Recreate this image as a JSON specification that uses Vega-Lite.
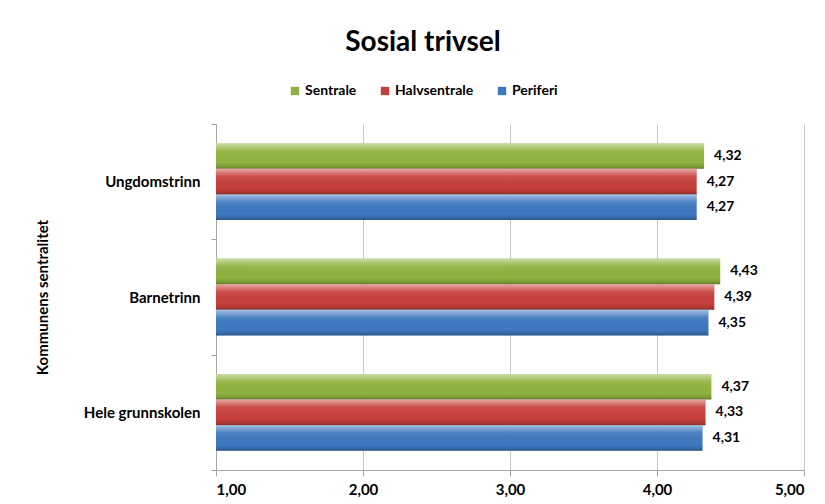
{
  "$schema": "https://vega.github.io/schema/vega-lite/v6.json",
  "width": 588,
  "height": 346,
  "autosize": {"type": "none"},
  "padding": {"left": 216, "top": 124, "right": 21, "bottom": 34},
  "background": "white",
  "title": {
    "text": "Sosial trivsel",
    "font": "Lato",
    "fontSize": 28,
    "fontWeight": "bold",
    "color": "#000000",
    "anchor": "middle",
    "dx": -87,
    "offset": 27
  },
  "config": {
    "locale": {"number": {"decimal": ",", "thousands": " ", "grouping": [3], "currency": ["", " kr"]}},
    "font": "Lato",
    "view": {"stroke": null},
    "axis": {"labelFont": "Lato", "titleFont": "Lato", "labelFontWeight": "bold", "titleFontWeight": "bold", "labelColor": "#000000", "titleColor": "#000000", "domainColor": "#a6a6a6", "tickColor": "#a6a6a6", "gridColor": "#c8c8c8"}
  },
  "data": {
    "values": [
      {"niva": "Ungdomstrinn", "gruppe": "Sentrale", "verdi": 4.32},
      {"niva": "Ungdomstrinn", "gruppe": "Halvsentrale", "verdi": 4.27},
      {"niva": "Ungdomstrinn", "gruppe": "Periferi", "verdi": 4.27},
      {"niva": "Barnetrinn", "gruppe": "Sentrale", "verdi": 4.43},
      {"niva": "Barnetrinn", "gruppe": "Halvsentrale", "verdi": 4.39},
      {"niva": "Barnetrinn", "gruppe": "Periferi", "verdi": 4.35},
      {"niva": "Hele grunnskolen", "gruppe": "Sentrale", "verdi": 4.37},
      {"niva": "Hele grunnskolen", "gruppe": "Halvsentrale", "verdi": 4.33},
      {"niva": "Hele grunnskolen", "gruppe": "Periferi", "verdi": 4.31}
    ]
  },
  "encoding": {
    "y": {
      "field": "niva",
      "type": "nominal",
      "sort": ["Ungdomstrinn", "Barnetrinn", "Hele grunnskolen"],
      "scale": {"paddingInner": 0, "paddingOuter": 0},
      "axis": {"title": "Kommunens sentralitet", "titleFontSize": 15, "titlePadding": 33, "labelFontSize": 15, "tickBand": "extent", "tickSize": 5, "labelPadding": 11, "domainColor": "#a6a6a6"}
    },
    "yOffset": {
      "field": "gruppe",
      "type": "nominal",
      "sort": ["Sentrale", "Halvsentrale", "Periferi"],
      "scale": {"paddingInner": 0, "paddingOuter": 0.75}
    },
    "x": {
      "field": "verdi",
      "type": "quantitative",
      "scale": {"domain": [1, 5], "zero": false, "nice": false},
      "axis": {"title": null, "values": [1, 2, 3, 4, 5], "format": ".2f", "labelFontSize": 15, "tickSize": 6, "labelPadding": 6, "grid": true, "gridWidth": 1}
    }
  },
  "layer": [
    {
      "mark": {"type": "bar", "x2": 0},
      "encoding": {
        "x2": {"datum": 1},
        "color": {
          "field": "gruppe",
          "type": "nominal",
          "sort": ["Sentrale", "Halvsentrale", "Periferi"],
          "scale": {"domain": ["Sentrale", "Halvsentrale", "Periferi"], "range": ["#8fb340", "#c8403c", "#3f78c0"]},
          "legend": {
            "title": null,
            "orient": "none",
            "direction": "horizontal",
            "legendX": 72,
            "legendY": -40,
            "symbolType": "square",
            "symbolSize": 70,
            "symbolStrokeWidth": 0,
            "labelFont": "Lato",
            "labelFontSize": 14,
            "labelFontWeight": "bold",
            "labelColor": "#000000",
            "columnPadding": 21,
            "labelOffset": 3
          }
        }
      }
    },
    {
      "mark": {
        "type": "bar",
        "color": {
          "gradient": "linear",
          "x1": 0, "y1": 0, "x2": 0, "y2": 1,
          "stops": [
            {"offset": 0, "color": "rgba(255,255,255,0.55)"},
            {"offset": 0.12, "color": "rgba(255,255,255,0.35)"},
            {"offset": 0.3, "color": "rgba(255,255,255,0.08)"},
            {"offset": 0.75, "color": "rgba(0,0,0,0.0)"},
            {"offset": 0.9, "color": "rgba(0,0,0,0.12)"},
            {"offset": 1, "color": "rgba(0,0,0,0.3)"}
          ]
        }
      },
      "encoding": {"x2": {"datum": 1}}
    },
    {
      "mark": {"type": "text", "align": "left", "baseline": "middle", "dx": 10, "font": "Lato", "fontSize": 14, "fontWeight": "bold", "color": "#000000"},
      "encoding": {"text": {"field": "verdi", "type": "quantitative", "format": ".2f"}}
    }
  ]
}
